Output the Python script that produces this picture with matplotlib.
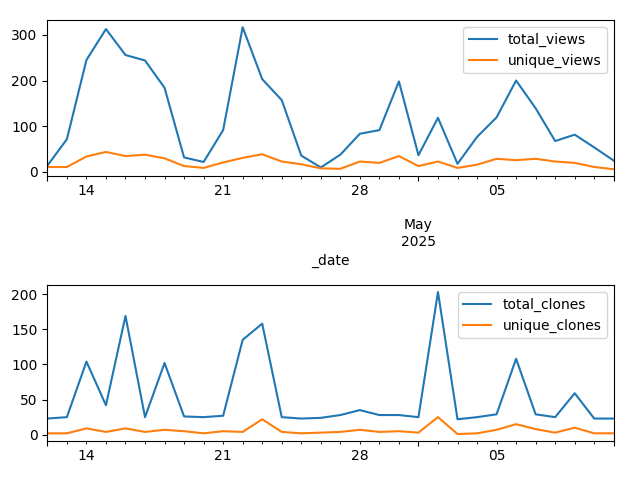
import matplotlib as mpl
mpl.use('Agg')
import matplotlib.pyplot as plt
from matplotlib.ticker import NullFormatter
import pandas as pd

dates = pd.date_range('2025-04-12', periods=30, freq='D', name='_date')

total_views = [13, 71, 245, 313, 256, 244, 184, 31, 21, 91, 317, 203, 157, 35, 9,
               37, 83, 91, 198, 36, 118, 17, 76, 119, 200, 139, 67, 81, 53, 24]
unique_views = [10, 10, 33, 43, 34, 37, 29, 12, 8, 20, 30, 38, 22, 16, 7,
                6, 22, 19, 34, 12, 22, 8, 15, 28, 25, 28, 22, 19, 10, 5]
total_clones = [23, 25, 104, 42, 169, 25, 102, 26, 25, 27, 135, 158, 25, 23, 24,
                28, 35, 28, 28, 25, 203, 22, 25, 29, 108, 29, 25, 59, 23, 23]
unique_clones = [2, 2, 9, 4, 9, 4, 7, 5, 2, 5, 4, 22, 4, 2, 3,
                 4, 7, 4, 5, 3, 25, 1, 2, 7, 15, 8, 3, 10, 2, 2]

views = pd.DataFrame({'total_views': total_views, 'unique_views': unique_views}, index=dates)
clones = pd.DataFrame({'total_clones': total_clones, 'unique_clones': unique_clones}, index=dates)

fig, axes = plt.subplots(2, 1, figsize=(6.4, 4.8), dpi=100)
views.plot(ax=axes[0])
clones.plot(ax=axes[1])

# bottom plot: no month label, no axis label
axes[1].xaxis.set_major_formatter(NullFormatter())
axes[1].set_xlabel('')

plt.subplots_adjust(left=0.074, right=0.959, top=0.958, bottom=0.081, hspace=0.695)
plt.savefig('out.png')
